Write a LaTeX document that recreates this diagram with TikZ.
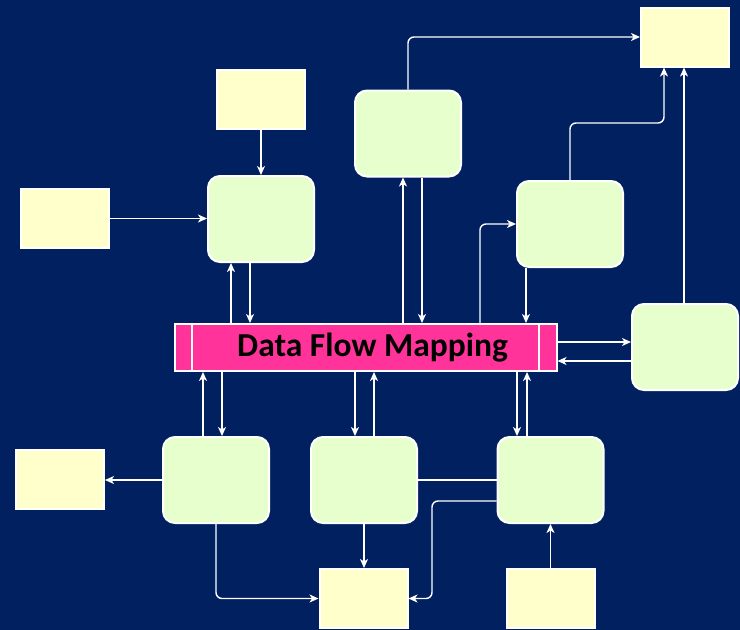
\documentclass[tikz,border=0pt]{standalone}
\usepackage{fontspec}
\setmainfont{Carlito}
\usetikzlibrary{arrows.meta,calc}
\definecolor{navy}{RGB}{0,32,96}
\definecolor{ylw}{RGB}{255,255,204}
\definecolor{grn}{RGB}{230,255,204}
\definecolor{pnk}{RGB}{255,51,153}
\tikzset{
  ybox/.style={draw=white, line width=2pt, fill=ylw, minimum width=88pt, minimum height=59pt, inner sep=0pt},
  gbox/.style={draw=white, line width=2pt, fill=grn, rounded corners=12pt, minimum width=106pt, minimum height=86pt, inner sep=0pt},
  barbox/.style={draw=white, line width=2pt, fill=pnk, minimum width=382pt, minimum height=47pt, inner sep=0pt, font=\fontsize{33.5}{38}\selectfont\bfseries},
  conn/.style={draw=white, line width=1.4pt},
  arr/.style={conn, -{Stealth[length=9pt,width=8pt,inset=2.5pt]}},
  rc/.style={rounded corners=6pt}
}
\begin{document}
\begin{tikzpicture}[x=1pt,y=-1pt]
\fill[navy] (0,0) rectangle (740,630);
\useasboundingbox (0,0) rectangle (740,630);
% yellow boxes
\node[ybox] (y1) at (685,37) {};
\node[ybox] (y2) at (261,99.5) {};
\node[ybox] (y3) at (65,218.5) {};
\node[ybox] (y4) at (60,479.5) {};
\node[ybox] (y5) at (363.5,598.5) {};
\node[ybox] (y6) at (551,598.5) {};
% green boxes
\node[gbox] (g1) at (261,219) {};
\node[gbox] (g2) at (408,133.5) {};
\node[gbox] (g3) at (570,224) {};
\node[gbox] (g4) at (685,347) {};
\node[gbox] (g5) at (216,480) {};
\node[gbox] (g6) at (364,480) {};
\node[gbox] (g7) at (550.5,480) {};
% central bar
\node[barbox] (bar) at (365.5,347.5) {\hspace*{14pt}Data Flow Mapping};
\draw[white, line width=2pt] ([xshift=18.5pt]bar.north west) -- ([xshift=18.5pt]bar.south west);
\draw[white, line width=2pt] ([xshift=-18.5pt]bar.north east) -- ([xshift=-18.5pt]bar.south east);
% bend coordinates
\coordinate (b1) at (664,123);
\coordinate (c2) at (432,501);
% connectors
\draw[arr] (y2) -- (g1);
\draw[arr] (y3.east) -- (y3.east -| g1.west);
\draw[arr] (bar.north -| 231,0) -- (g1.south -| 231,0);
\draw[arr] (g1.south -| 250,0) -- (bar.north -| 250,0);
\draw[arr] (bar.north -| 403,0) -- (g2.south -| 403,0);
\draw[arr] (g2.south -| 422,0) -- (bar.north -| 422,0);
\draw[arr,rc] (g2.north) |- (y1.west);
\draw[arr,rc] (bar.north -| 480,0) |- (g3.west);
\draw[arr] (g3.south -| 526,0) -- (bar.north -| 526,0);
\draw[arr,rc] (g3.north) |- (b1) -- (y1.south -| b1);
\draw[arr] (g4.north -| 684,0) -- (y1.south -| 684,0);
\draw[arr] (bar.east |- 0,342) -- (g4.west |- 0,342);
\draw[arr] (g4.west |- 0,361) -- (bar.east |- 0,361);
\draw[arr] (g5.north -| 203,0) -- (bar.south -| 203,0);
\draw[arr] (bar.south -| 222,0) -- (g5.north -| 222,0);
\draw[arr] (bar.south -| 355,0) -- (g6.north -| 355,0);
\draw[arr] (g6.north -| 374,0) -- (bar.south -| 374,0);
\draw[arr] (bar.south -| 517,0) -- (g7.north -| 517,0);
\draw[arr] (g7.north -| 527,0) -- (bar.south -| 527,0);
\draw[arr] (g5.west) -- (g5.west -| y4.east);
\draw[arr,rc] (g5.south) |- (y5.west);
\draw[arr] (g6.south) -- (y5.north -| g6.south);
\draw[conn] (g6.east) -- (g7.west);
\draw[arr,rc] (g7.west |- c2) -- (c2) |- (y5.east);
\draw[arr] (y6.north -| g7.south) -- (g7.south);
\end{tikzpicture}
\end{document}
